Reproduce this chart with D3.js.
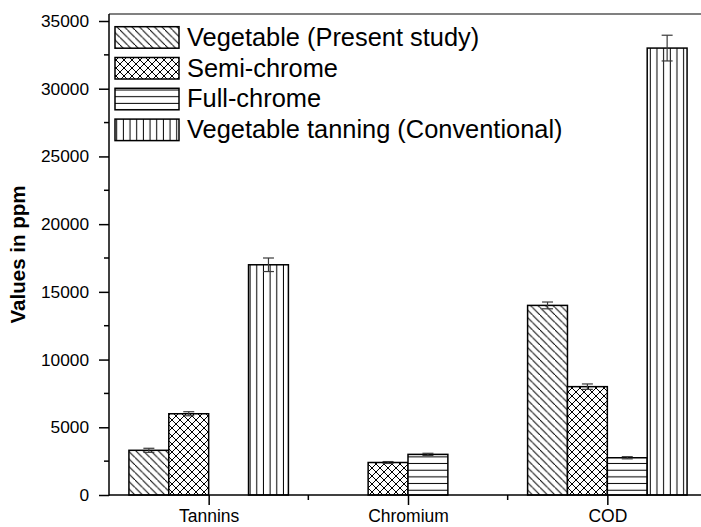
<!DOCTYPE html>
<html>
<head>
<meta charset="utf-8">
<script src="https://cdn.jsdelivr.net/npm/d3@7"></script>
<style>
  html, body { margin: 0; padding: 0; background: #fff; }
  svg { display: block; font-family: "Liberation Sans", Arial, sans-serif; }
</style>
</head>
<body>
<svg id="chart" width="701" height="527"></svg>
<script>
// Effluent parameters by tanning process
const categories = ["Tannins", "Chromium", "COD"];
const seriesNames = [
  "Vegetable (Present study)",
  "Semi-chrome",
  "Full-chrome",
  "Vegetable tanning (Conventional)"
];
// values per series, one entry per category (null = not measured)
const vegetablePresent = [3300, null, 14000];
const semiChrome = [6000, 2400, 8000];
const fullChrome = [null, 3000, 2750];
const vegetableConventional = [17000, null, 33000];
// standard deviations for the error bars
const vegetablePresentErr = [150, null, 250];
const semiChromeErr = [150, 70, 200];
const fullChromeErr = [null, 80, 80];
const vegetableConventionalErr = [500, null, 950];
const yTicks = [0, 5000, 10000, 15000, 20000, 25000, 30000, 35000];

const seriesValues = [vegetablePresent, semiChrome, fullChrome, vegetableConventional];
const seriesErrors = [vegetablePresentErr, semiChromeErr, fullChromeErr, vegetableConventionalErr];
const patternIds = ["pat-diag", "pat-cross", "pat-horiz", "pat-vert"];

const svg = d3.select("#chart");
const W = 701, H = 527;
const left = 109, plotTop = 14, bottom = 495;
const FONT = "Liberation Sans, Arial, sans-serif";

const x = d3.scaleLinear().domain([0.5, 3.5]).range([left, 707]);
const y = d3.scaleLinear().domain([0, 35000]).range([bottom, 21]);
const barW = 0.2;

// hatch patterns
const defs = svg.append("defs");
function pattern(id, w, h, lines) {
  const p = defs.append("pattern").attr("id", id)
    .attr("patternUnits", "userSpaceOnUse").attr("width", w).attr("height", h);
  p.append("rect").attr("width", w).attr("height", h).attr("fill", "#fff");
  lines.forEach(l => p.append("line")
    .attr("x1", l[0]).attr("y1", l[1]).attr("x2", l[2]).attr("y2", l[3])
    .attr("stroke", "#000").attr("stroke-width", 1));
}
const d = 7.5;
pattern("pat-diag", d, d, [[0, 0, d, d], [-d, 0, 0, d], [d, -d, 2 * d, 0], [-1, -1, 0, 0], [d, d, d + 1, d + 1]]);
pattern("pat-cross", 8, 8, [[0, 0, 8, 8], [-8, 0, 0, 8], [8, -8, 16, 0], [0, 8, 8, 0], [-8, 8, 0, 0], [8, 16, 16, 8]]);
pattern("pat-horiz", 10, 6.67, [[0, 3.3, 10, 3.3]]);
pattern("pat-vert", 6.67, 10, [[3.3, 0, 3.3, 10]]);

// bars
const barsData = [];
seriesValues.forEach((vals, s) => {
  vals.forEach((v, c) => {
    if (v !== null) barsData.push({ s, c, v, e: seriesErrors[s][c] });
  });
});

svg.append("g").selectAll("rect").data(barsData).join("rect")
  .attr("x", b => x(b.c + 1 - 0.4 + b.s * barW))
  .attr("width", x(barW) - x(0))
  .attr("y", b => y(b.v))
  .attr("height", b => y(0) - y(b.v))
  .attr("fill", b => `url(#${patternIds[b.s]})`)
  .attr("stroke", "#000").attr("stroke-width", 1.5);

// error bars
const eg = svg.append("g").attr("stroke", "#3a3a3a").attr("stroke-width", 1.2);
barsData.forEach(b => {
  const cx = x(b.c + 1 - 0.4 + b.s * barW + barW / 2);
  eg.append("line").attr("x1", cx).attr("x2", cx).attr("y1", y(b.v - b.e)).attr("y2", y(b.v + b.e));
  [b.v - b.e, b.v + b.e].forEach(t => eg.append("line")
    .attr("x1", cx - 5.5).attr("x2", cx + 5.5).attr("y1", y(t)).attr("y2", y(t)));
});

// frame lines
svg.append("line").attr("x1", left).attr("x2", W).attr("y1", plotTop).attr("y2", plotTop)
  .attr("stroke", "#808080").attr("stroke-width", 2);

// y axis
const yAxis = d3.axisLeft(y).tickValues(yTicks).tickFormat(d3.format("d"))
  .tickSize(10).tickPadding(10).tickSizeOuter(0);
const yg = svg.append("g").attr("transform", `translate(${left},0)`).call(yAxis);
yg.select(".domain").remove();
yg.selectAll(".tick line").attr("stroke", "#000").attr("stroke-width", 1.5);
yg.selectAll(".tick text").attr("font-size", 17.3).attr("fill", "#000").attr("font-family", FONT);
svg.append("g").selectAll("line").data(d3.range(2500, 35000, 5000)).join("line")
  .attr("x1", left - 5).attr("x2", left).attr("y1", v => y(v)).attr("y2", v => y(v))
  .attr("stroke", "#000").attr("stroke-width", 1.5);
svg.append("line").attr("x1", left).attr("x2", left).attr("y1", plotTop).attr("y2", bottom + 0.75)
  .attr("stroke", "#000").attr("stroke-width", 1.5);

// x axis
const xAxis = d3.axisBottom(x).tickValues([1, 2, 3]).tickFormat((v) => categories[v - 1])
  .tickSize(10).tickPadding(5).tickSizeOuter(0);
const xg = svg.append("g").attr("transform", `translate(0,${bottom})`).call(xAxis);
xg.select(".domain").remove();
xg.selectAll(".tick line").attr("stroke", "#000").attr("stroke-width", 1.5);
xg.selectAll(".tick text").attr("font-size", 17.5).attr("fill", "#000").attr("font-family", FONT);
svg.append("g").selectAll("line").data([1.5, 2.5]).join("line")
  .attr("x1", v => x(v)).attr("x2", v => x(v)).attr("y1", bottom).attr("y2", bottom + 5)
  .attr("stroke", "#000").attr("stroke-width", 1.5);
svg.append("line").attr("x1", left).attr("x2", W).attr("y1", bottom).attr("y2", bottom)
  .attr("stroke", "#000").attr("stroke-width", 1.5);

// y axis title
svg.append("text")
  .attr("transform", `translate(25,${(plotTop + bottom) / 2}) rotate(-90)`)
  .attr("text-anchor", "middle").attr("font-weight", "bold").attr("font-size", 20.5)
  .text("Values in ppm");

// legend
const lg = svg.append("g");
seriesNames.forEach((name, i) => {
  const top = 26.7 + i * 30.8;
  lg.append("rect").attr("x", 115).attr("y", top).attr("width", 64).attr("height", 21.5)
    .attr("fill", `url(#${patternIds[i]})`).attr("stroke", "#000").attr("stroke-width", 1.5);
  lg.append("text").attr("x", 187).attr("y", top + 19).attr("font-size", 25.4).text(name);
});
</script>
</body>
</html>
